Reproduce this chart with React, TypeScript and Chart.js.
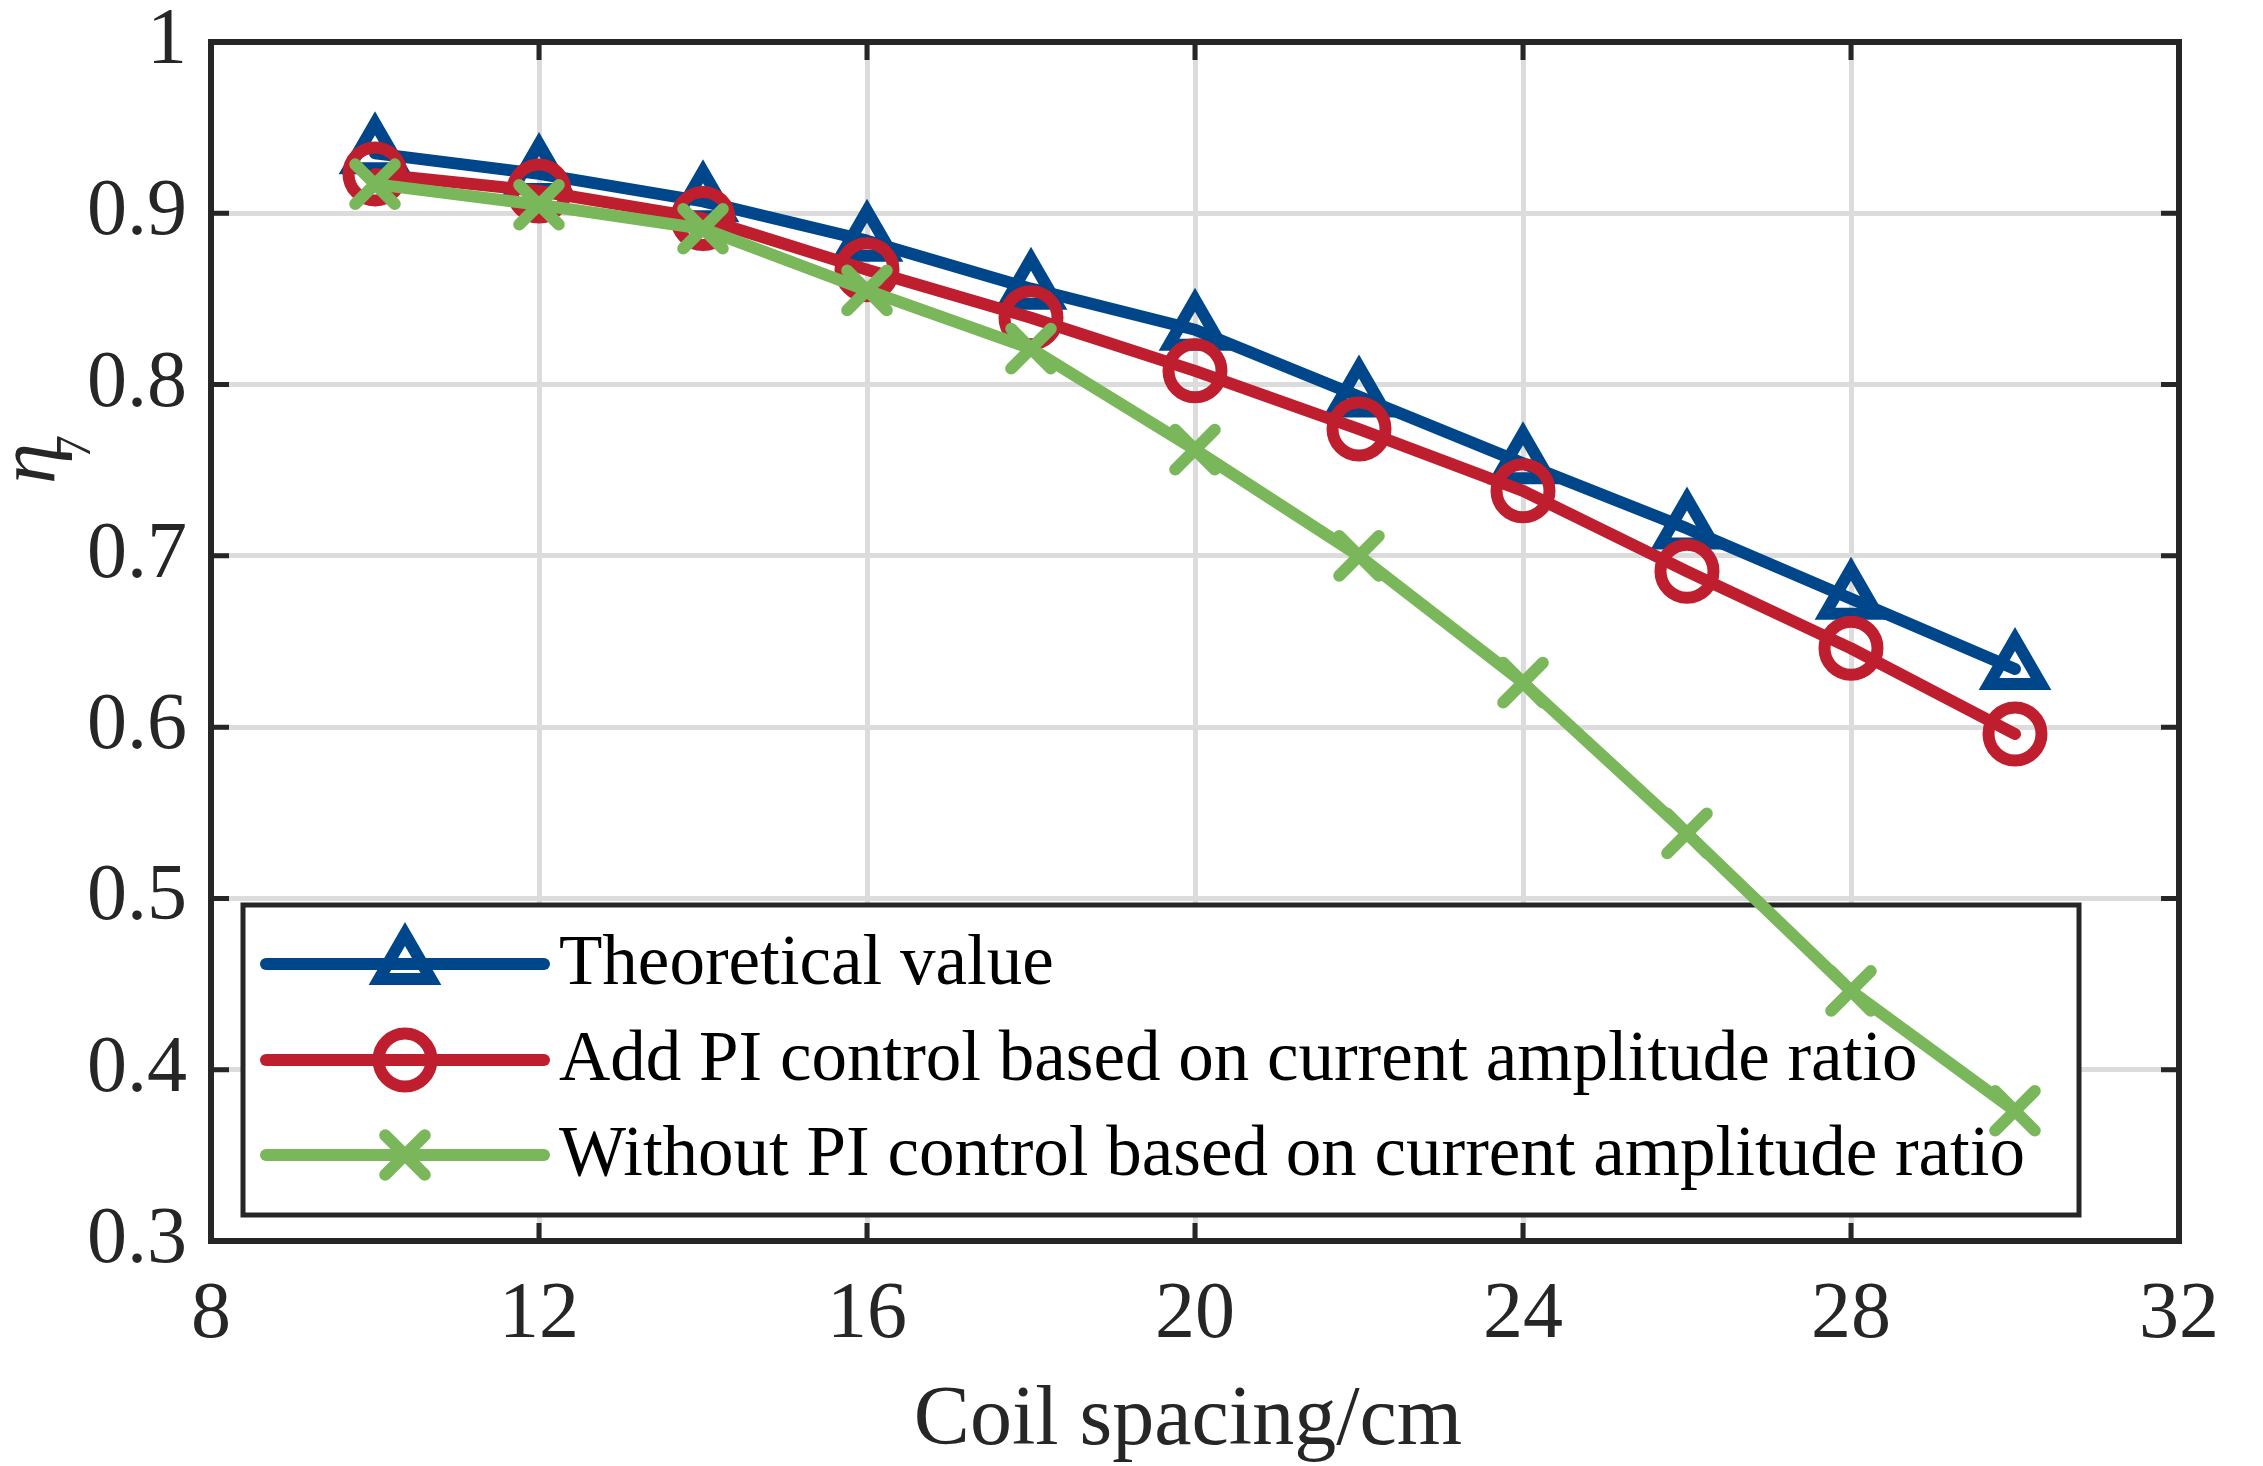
import React, { useEffect, useRef } from 'react';
import { Chart, registerables } from 'chart.js';

Chart.register(...registerables);

const coilSpacing = [10, 12, 14, 16, 18, 20, 22, 24, 26, 28, 30];
const theoretical = [0.935, 0.923, 0.907, 0.884, 0.856, 0.832, 0.793, 0.754, 0.716, 0.675, 0.634];
const withPI = [0.923, 0.913, 0.897, 0.867, 0.839, 0.808, 0.774, 0.738, 0.691, 0.646, 0.596];
const withoutPI = [0.917, 0.905, 0.891, 0.855, 0.821, 0.762, 0.7, 0.626, 0.538, 0.446, 0.376];

const seriesNames = [
  'Theoretical value',
  'Add PI control based on current amplitude ratio',
  'Without PI control based on current amplitude ratio',
];
const seriesColors = ['#00468B', '#BE1E2D', '#7AB75A'];
const seriesMarkers = ['triangle', 'circle', 'crossRot'];
const markerRadii = [30, 26.5, 28];

const xTickLabels = ['8', '12', '16', '20', '24', '28', '32'];
const yTickLabels = ['0.3', '0.4', '0.5', '0.6', '0.7', '0.8', '0.9', '1'];
const xTitle = 'Coil spacing/cm';
const yTitleMain = 'η';
const yTitleSub = '7';

const AXIS_COLOR = '#262626';
const SERIF = '"Liberation Serif", "Times New Roman", serif';

function drawMarker(ctx: CanvasRenderingContext2D, style: string, x: number, y: number, r: number) {
  ctx.beginPath();
  if (style === 'triangle') {
    let rad = 0;
    ctx.moveTo(x + Math.sin(rad) * r, y - Math.cos(rad) * r);
    rad += (2 * Math.PI) / 3;
    ctx.lineTo(x + Math.sin(rad) * r, y - Math.cos(rad) * r);
    rad += (2 * Math.PI) / 3;
    ctx.lineTo(x + Math.sin(rad) * r, y - Math.cos(rad) * r);
    ctx.closePath();
  } else if (style === 'circle') {
    ctx.arc(x, y, r, 0, Math.PI * 2);
  } else {
    const o = r * Math.SQRT1_2;
    ctx.moveTo(x - o, y - o);
    ctx.lineTo(x + o, y + o);
    ctx.moveTo(x + o, y - o);
    ctx.lineTo(x - o, y + o);
  }
  ctx.stroke();
}

const customPlugin = {
  id: 'matlabStyle',
  beforeDatasetsDraw(chart: any) {
    const { ctx, chartArea } = chart;
    const L = chartArea.left;
    const T = chartArea.top;
    // legend box
    const bx = L + 32;
    const by = T + 863;
    const bw = 1836;
    const bh = 310;
    ctx.save();
    ctx.fillStyle = '#ffffff';
    ctx.fillRect(bx, by, bw, bh);
    ctx.lineWidth = 5;
    ctx.strokeStyle = AXIS_COLOR;
    ctx.strokeRect(bx, by, bw, bh);
    const rowY = [by + 59, by + 155, by + 250];
    seriesNames.forEach((name, i) => {
      const cy = rowY[i];
      ctx.strokeStyle = seriesColors[i];
      ctx.lineWidth = 12;
      ctx.lineCap = 'round';
      ctx.lineJoin = 'round';
      ctx.beginPath();
      ctx.moveTo(bx + 23, cy);
      ctx.lineTo(bx + 301, cy);
      ctx.stroke();
      ctx.lineJoin = 'miter';
      drawMarker(ctx, seriesMarkers[i], bx + 162, cy, markerRadii[i]);
      ctx.fillStyle = '#000000';
      ctx.font = `71px ${SERIF}`;
      ctx.textAlign = 'left';
      ctx.textBaseline = 'alphabetic';
      ctx.fillText(name, bx + 316, cy + 20);
    });
    ctx.restore();
  },
  beforeDatasetDraw(chart: any) {
    chart.ctx.save();
    chart.ctx.lineCap = 'round';
    chart.ctx.lineJoin = 'miter';
  },
  afterDatasetDraw(chart: any) {
    chart.ctx.restore();
  },
  afterDraw(chart: any) {
    const { ctx, chartArea, scales } = chart;
    const { left, right, top, bottom } = chartArea;
    ctx.save();
    // ticks inward
    ctx.strokeStyle = AXIS_COLOR;
    ctx.lineWidth = 5;
    ctx.lineCap = 'butt';
    const tl = 18;
    scales.x.ticks.forEach((t: any) => {
      const px = scales.x.getPixelForValue(t.value);
      ctx.beginPath();
      ctx.moveTo(px, bottom);
      ctx.lineTo(px, bottom - tl);
      ctx.moveTo(px, top);
      ctx.lineTo(px, top + tl);
      ctx.stroke();
    });
    scales.y.ticks.forEach((t: any) => {
      const py = scales.y.getPixelForValue(t.value);
      ctx.beginPath();
      ctx.moveTo(left, py);
      ctx.lineTo(left + tl, py);
      ctx.moveTo(right, py);
      ctx.lineTo(right - tl, py);
      ctx.stroke();
    });
    // box
    ctx.lineWidth = 6;
    ctx.lineJoin = 'miter';
    ctx.strokeRect(left, top, right - left, bottom - top);

    // x title
    ctx.fillStyle = AXIS_COLOR;
    ctx.font = `84px ${SERIF}`;
    ctx.textAlign = 'center';
    ctx.textBaseline = 'alphabetic';
    ctx.fillText(xTitle, (left + right) / 2 - 7, bottom + 203);

    // y title (rotated)
    ctx.translate(left - 157, top + 442);
    ctx.rotate(-Math.PI / 2);
    ctx.textAlign = 'left';
    ctx.font = `italic 82px ${SERIF}`;
    ctx.fillText(yTitleMain, 0, 0);
    ctx.font = `50px ${SERIF}`;
    ctx.fillText(yTitleSub, 24, 36);
    ctx.restore();
  },
};

export default function App() {
  const canvasRef = useRef<HTMLCanvasElement | null>(null);

  useEffect(() => {
    const canvas = canvasRef.current;
    if (!canvas) return;
    const series = [theoretical, withPI, withoutPI];
    const datasets = series.map((vals, i) => ({
      label: seriesNames[i],
      data: coilSpacing.map((x, k) => ({ x, y: vals[k] })),
      borderColor: seriesColors[i],
      backgroundColor: 'rgba(0,0,0,0)',
      borderWidth: 12,
      borderJoinStyle: 'round' as const,
      borderCapStyle: 'round' as const,
      pointStyle: seriesMarkers[i] as any,
      pointRadius: markerRadii[i],
      pointBorderWidth: 12,
      pointBorderColor: seriesColors[i],
      pointBackgroundColor: 'rgba(0,0,0,0)',
      tension: 0,
      fill: false,
      clip: false as any,
      order: 3 - i,
    }));

    const chart = new Chart(canvas, {
      type: 'line',
      data: { datasets },
      options: {
        animation: false,
        responsive: false,
        devicePixelRatio: 1,
        layout: { padding: { left: 0, right: 84, top: 35, bottom: 0 } },
        plugins: {
          legend: { display: false },
          tooltip: { enabled: false },
        },
        scales: {
          x: {
            type: 'linear',
            min: 8,
            max: 32,
            ticks: {
              stepSize: 4,
              color: AXIS_COLOR,
              font: { family: SERIF, size: 80 },
              padding: 27,
              maxRotation: 0,
              autoSkip: false,
              callback: (v: any) => {
                const idx = Math.round((Number(v) - 8) / 4);
                return xTickLabels[idx] ?? '';
              },
            },
            grid: { color: '#DCDCDC', lineWidth: 5, drawTicks: false },
            border: { display: false },
            afterFit: (s: any) => {
              s.height = 225;
              s.paddingLeft = 0;
              s.paddingRight = 0;
              s.paddingTop = 0;
              s.paddingBottom = 0;
            },
          },
          y: {
            type: 'linear',
            min: 0.3,
            max: 1,
            ticks: {
              stepSize: 0.1,
              color: AXIS_COLOR,
              font: { family: SERIF, size: 80 },
              padding: 24,
              autoSkip: false,
              callback: (v: any) => {
                const idx = Math.round((Number(v) - 0.3) / 0.1);
                return yTickLabels[idx] ?? '';
              },
            },
            grid: { color: '#DCDCDC', lineWidth: 5, drawTicks: false },
            border: { display: false },
            afterFit: (s: any) => {
              s.width = 211;
              s.paddingLeft = 0;
              s.paddingRight = 0;
              s.paddingTop = 0;
              s.paddingBottom = 0;
            },
          },
        },
      },
      plugins: [customPlugin],
    });
    return () => chart.destroy();
  }, []);

  return (
    <div style={{ position: 'absolute', left: 0, top: 0, width: 2263, height: 1466, background: '#ffffff' }}>
      <canvas ref={canvasRef} width={2263} height={1466} style={{ display: 'block', width: 2263, height: 1466 }} />
    </div>
  );
}
